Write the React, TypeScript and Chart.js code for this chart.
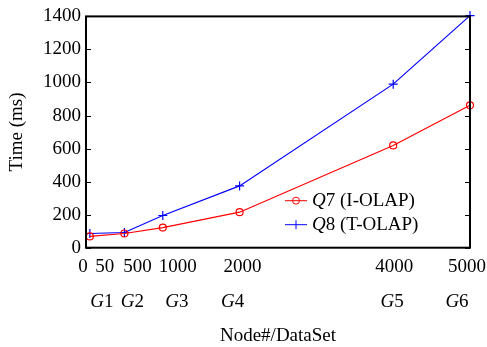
import React, { useEffect, useRef } from "react";
import { Chart, registerables } from "chart.js";

Chart.register(...registerables);

// ---- data ----
const nodeCounts = [50, 500, 1000, 2000, 4000, 5000];
const groupLabels = ["G1", "G2", "G3", "G4", "G5", "G6"];
const q7Times = [68, 86, 122, 215, 619, 862];
const q8Times = [86, 92, 195, 374, 990, 1405];
const xTickValues = [0, 50, 500, 1000, 2000, 4000, 5000];
const seriesNames = [
  { q: "Q", rest: "7 (I-OLAP)" },
  { q: "Q", rest: "8 (T-OLAP)" },
];

// ---- style ----
const FONT = "'Liberation Serif', 'Times New Roman', serif";
const FS = 19;
const numberLabelShift = [-3, 15, 13, 15, 3, 1, -3];
const groupLabelShift = [12, 8, 14, -7, -1, -13];
const RED = "#ff0000";
const BLUE = "#0000ff";

const decorPlugin = {
  id: "decor",
  afterDraw(chart: any) {
    const { ctx, chartArea } = chart;
    const { left, right, top, bottom } = chartArea;
    const xs = chart.scales.x;
    const ys = chart.scales.y;
    ctx.save();
    // frame
    ctx.strokeStyle = "#000";
    ctx.lineWidth = 2;
    ctx.strokeRect(left, top, right - left, bottom - top);
    // inward tick marks
    ctx.lineWidth = 1;
    ys.ticks.forEach((t: any) => {
      const y = Math.round(ys.getPixelForValue(t.value)) + 0.5;
      ctx.beginPath();
      ctx.moveTo(left, y);
      ctx.lineTo(left + 5, y);
      ctx.moveTo(right, y);
      ctx.lineTo(right - 5, y);
      ctx.stroke();
    });
    // x labels (numbers)
    ctx.fillStyle = "#000";
    ctx.textBaseline = "middle";
    ctx.textAlign = "center";
    ctx.font = `${FS}px ${FONT}`;
    xTickValues.forEach((v, i) => {
      const x = xs.getPixelForValue(v) + numberLabelShift[i];
      ctx.fillText(String(v), x, bottom + 19);
    });
    // group labels G1..G6, G italic
    groupLabels.forEach((g, i) => {
      const cx = xs.getPixelForValue(nodeCounts[i]) + groupLabelShift[i];
      const letter = g.slice(0, 1);
      const digit = g.slice(1);
      ctx.font = `italic ${FS}px ${FONT}`;
      const wl = ctx.measureText(letter).width;
      ctx.font = `${FS}px ${FONT}`;
      const wd = ctx.measureText(digit).width;
      const x0 = cx - (wl + wd) / 2;
      ctx.textAlign = "left";
      ctx.font = `italic ${FS}px ${FONT}`;
      ctx.fillText(letter, x0, bottom + 54);
      ctx.font = `${FS}px ${FONT}`;
      ctx.fillText(digit, x0 + wl, bottom + 54);
    });
    // legend
    const colors = [RED, BLUE];
    seriesNames.forEach((s, i) => {
      const y = bottom - 47 + i * 24;
      const lx0 = right - 185;
      const lx1 = lx0 + 22;
      const mx = (lx0 + lx1) / 2;
      ctx.strokeStyle = colors[i];
      ctx.lineWidth = 1;
      ctx.beginPath();
      ctx.moveTo(lx0, y);
      ctx.lineTo(lx1, y);
      ctx.stroke();
      ctx.beginPath();
      if (i === 0) {
        ctx.arc(mx, y, 3.5, 0, Math.PI * 2);
      } else {
        ctx.moveTo(mx, y - 4.5);
        ctx.lineTo(mx, y + 4.5);
      }
      ctx.stroke();
      ctx.fillStyle = "#000";
      ctx.textAlign = "left";
      ctx.font = `italic ${FS}px ${FONT}`;
      const tx = lx1 + 5;
      ctx.fillText(s.q, tx, y);
      const wq = ctx.measureText(s.q).width;
      ctx.font = `${FS}px ${FONT}`;
      ctx.fillText(s.rest, tx + wq, y);
    });
    ctx.restore();
  },
};

export default function App() {
  const ref = useRef<HTMLCanvasElement>(null);
  useEffect(() => {
    document.body.style.margin = "0";
    const chart = new Chart(ref.current as HTMLCanvasElement, {
      type: "line",
      data: {
        datasets: [
          {
            label: "Q7 (I-OLAP)",
            data: nodeCounts.map((x, i) => ({ x, y: q7Times[i] })),
            borderColor: RED,
            backgroundColor: "transparent",
            borderWidth: 1.2,
            pointStyle: "circle",
            pointRadius: 3.5,
            pointBorderWidth: 1.2,
            pointBorderColor: RED,
            pointBackgroundColor: "transparent",
            clip: false as any,
          },
          {
            label: "Q8 (T-OLAP)",
            data: nodeCounts.map((x, i) => ({ x, y: q8Times[i] })),
            borderColor: BLUE,
            backgroundColor: "transparent",
            borderWidth: 1.2,
            pointStyle: "cross",
            pointRadius: 4.5,
            pointBorderWidth: 1.2,
            pointBorderColor: BLUE,
            clip: false as any,
          },
        ],
      },
      options: {
        responsive: false,
        animation: false,
        devicePixelRatio: 1,
        layout: { padding: { top: 13, right: 17, left: 0, bottom: 0 } },
        plugins: { legend: { display: false }, tooltip: { enabled: false } },
        scales: {
          x: {
            type: "linear",
            min: 0,
            max: 5000,
            grid: { display: false },
            border: { display: false },
            ticks: { display: false },
            afterFit(scale: any) {
              scale.height = 99.3;
            },
            title: {
              display: true,
              text: "Node#/DataSet",
              color: "#000",
              font: { family: FONT, size: FS },
              padding: { top: 0, bottom: 0 },
            },
          },
          y: {
            min: 0,
            max: 1400,
            grid: { display: false, drawTicks: false },
            border: { display: false },
            ticks: {
              stepSize: 200,
              color: "#000",
              padding: 5,
              font: { family: FONT, size: FS },
              callback: (v: any) => String(v),
            },
            afterFit(scale: any) {
              scale.width = 86;
            },
            title: {
              display: true,
              text: "Time (ms)",
              color: "#000",
              font: { family: FONT, size: FS },
              padding: { top: 6, bottom: 0 },
            },
          },
        },
      },
      plugins: [decorPlugin],
    } as any);
    return () => chart.destroy();
  }, []);
  return <canvas ref={ref} width={487} height={347} />;
}
